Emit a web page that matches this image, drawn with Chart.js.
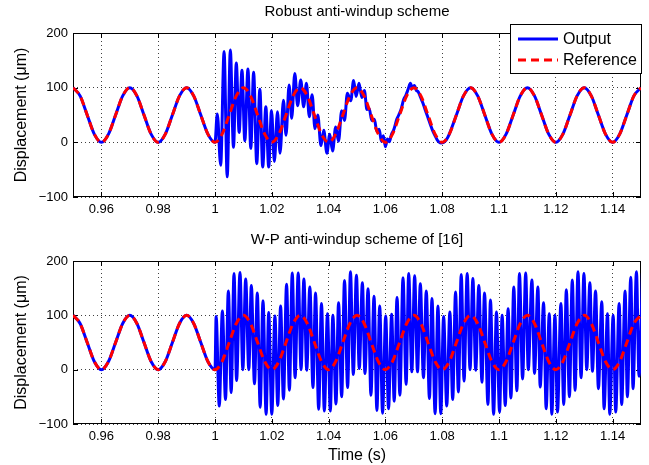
<!DOCTYPE html>
<html>
<head>
<meta charset="utf-8">
<script src="https://cdn.jsdelivr.net/npm/chart.js@4"></script>
<style>
  body { margin: 0; background: #fff; }
  #wrap { position: relative; width: 649px; height: 465px; }
  canvas { position: absolute; left: 0; }
</style>
</head>
<body>
<div id="wrap">
  <canvas id="topChart" width="649" height="232" style="top:0"></canvas>
  <canvas id="bottomChart" width="649" height="237" style="top:228px"></canvas>
</div>
<script>
// axis ticks
const timeTicks = [0.96, 0.98, 1, 1.02, 1.04, 1.06, 1.08, 1.1, 1.12, 1.14];
const displacementTicks = [-100, 0, 100, 200];

// reference signal, one value every 2.5 ms starting at 0.95 s
const sampleStart = 0.95;
const sampleStep = 0.0025;
const referenceValues = [
  100, 85, 50, 15, 0, 15, 50, 85,
  100, 85, 50, 15, 0, 15, 50, 85,
  100, 85, 50, 15, 0, 15, 50, 85,
  100, 85, 50, 15, 0, 15, 50, 85,
  100, 85, 50, 15, 0, 15, 50, 85,
  100, 85, 50, 15, 0, 15, 50, 85,
  100, 85, 50, 15, 0, 15, 50, 85,
  100, 85, 50, 15, 0, 15, 50, 85,
  100, 85, 50, 15, 0, 15, 50, 85,
  100, 85, 50, 15, 0, 15, 50, 85,
  100
];

// output before t = 1 s (same for both schemes, same sampling)
const outputBefore = [100, 85, 50, 15, 0, 15, 50, 85, 100, 85, 50, 15, 0, 15, 50, 85, 100, 85, 50, 15, 0];

const robustTransient = [
  [1.0008, 52], [1.0020, -42], [1.0032, 166], [1.0043, -63], [1.0054, 169], [1.0065, -9],
  [1.0075, 145], [1.0085, 18], [1.0095, 132], [1.0105, 3], [1.0116, 134], [1.0126, -11],
  [1.0136, 128], [1.0147, -39], [1.0158, 97], [1.0168, -45], [1.0179, 65], [1.0189, -45],
  [1.0199, 58], [1.0209, -35], [1.0220, 56], [1.0229, -20], [1.0241, 77], [1.0250, 13],
  [1.0261, 105], [1.0270, 44], [1.0281, 126], [1.0291, 67], [1.0302, 114], [1.0312, 65],
  [1.0322, 108], [1.0332, 47], [1.0342, 87], [1.0352, 25], [1.0362, 50], [1.0373, -6],
  [1.0383, 22], [1.0394, -20], [1.0404, 15], [1.0414, -16], [1.0425, 28], [1.0435, 2],
  [1.0446, 58], [1.0456, 40], [1.0466, 90], [1.0478, 76], [1.0488, 113], [1.0497, 84],
  [1.0507, 108], [1.0517, 82], [1.0526, 95], [1.0535, 60], [1.0543, 62], [1.0552, 40],
  [1.0561, 42], [1.0570, 20], [1.0578, 24], [1.0586, 2], [1.0593, 12], [1.0600, -8],
  [1.0607, 6], [1.0614, 1], [1.0621, 14], [1.0630, 24], [1.0640, 42], [1.0647, 50],
  [1.0655, 60], [1.0664, 78], [1.0672, 86], [1.0680, 97], [1.0688, 108], [1.0695, 99],
  [1.0702, 104], [1.0709, 95], [1.0716, 92], [1.0724, 82], [1.0732, 72], [1.0741, 58],
  [1.0750, 45], [1.0758, 33], [1.0766, 22], [1.0775, 12], [1.0784, 3], [1.0795, -1],
  [1.0805, 0], [1.0815, 5]
];
// robust scheme back on the reference from 1.0825 s (2.5 ms step)
const robustSettledStart = 1.0825;
const robustSettled = [
  15, 50, 85, 100, 85, 50, 15, 0,
  15, 50, 85, 100, 85, 50, 15, 0,
  15, 50, 85, 100, 85, 50, 15, 0,
  15, 50, 85, 100
];

// W-P scheme: [time, displacement] peaks and troughs of the bottom plot after t = 1 s
const wpOscillation = [
  [1.0004, 98], [1.0015, -67], [1.0026, 108], [1.0037, -55], [1.0047, 145], [1.0057, -42],
  [1.0067, 177], [1.0076, -20], [1.0088, 179], [1.0098, 0], [1.0108, 167], [1.0119, 0],
  [1.0128, 155], [1.0139, -26], [1.0149, 141], [1.0159, -69], [1.0169, 127], [1.0180, -82],
  [1.0189, 105], [1.0200, -82], [1.0211, 99], [1.0221, -66], [1.0231, 117], [1.0241, -54],
  [1.0252, 157], [1.0262, -38], [1.0272, 178], [1.0282, -15], [1.0293, 178], [1.0303, 0],
  [1.0313, 167], [1.0323, -1], [1.0334, 152], [1.0345, -33], [1.0354, 141], [1.0365, -73],
  [1.0375, 122], [1.0385, -76], [1.0396, 103], [1.0406, -76], [1.0415, 100], [1.0426, -63],
  [1.0435, 123], [1.0446, -50], [1.0456, 164], [1.0467, -33], [1.0477, 180], [1.0487, -9],
  [1.0498, 174], [1.0508, 2], [1.0519, 160], [1.0528, -7], [1.0539, 149], [1.0549, -47],
  [1.0560, 135], [1.0570, -75], [1.0580, 117], [1.0590, -80], [1.0601, 99], [1.0611, -72],
  [1.0622, 102], [1.0631, -58], [1.0641, 133], [1.0651, -47], [1.0662, 169], [1.0673, -27],
  [1.0682, 177], [1.0693, -4], [1.0703, 173], [1.0713, -4], [1.0723, 158], [1.0734, -15],
  [1.0744, 145], [1.0755, -53], [1.0764, 131], [1.0775, -81], [1.0785, 117], [1.0795, -81],
  [1.0805, 98], [1.0816, -67], [1.0827, 106], [1.0837, -55], [1.0847, 143], [1.0857, -41],
  [1.0867, 175], [1.0877, -21], [1.0888, 177], [1.0898, 0], [1.0908, 168], [1.0918, -1],
  [1.0929, 155], [1.0940, -23], [1.0949, 141], [1.0961, -64], [1.0970, 128], [1.0981, -82],
  [1.0991, 106], [1.1002, -78], [1.1011, 100], [1.1022, -66], [1.1032, 112], [1.1042, -52],
  [1.1052, 152], [1.1063, -39], [1.1072, 177], [1.1083, -17], [1.1094, 178], [1.1103, 0],
  [1.1116, 165], [1.1125, -7], [1.1137, 152], [1.1145, -32], [1.1157, 123], [1.1166, -72],
  [1.1177, 103], [1.1186, -82], [1.1197, 100], [1.1206, -78], [1.1218, 122], [1.1228, -64],
  [1.1237, 147], [1.1248, -50], [1.1258, 165], [1.1268, -38], [1.1278, 180], [1.1289, -15],
  [1.1299, 177], [1.1309, 0], [1.1320, 160], [1.1329, -3], [1.1340, 145], [1.1350, -35],
  [1.1362, 125], [1.1370, -72], [1.1382, 103], [1.1390, -82], [1.1402, 100], [1.1411, -78],
  [1.1423, 122], [1.1432, -64], [1.1444, 145], [1.1452, -50], [1.1464, 170], [1.1472, -35],
  [1.1484, 180], [1.1493, -12], [1.1505, 178]
];

const FONT = "'Liberation Sans', Arial, Helvetica, sans-serif";
Chart.defaults.color = '#000';
Chart.defaults.font.family = FONT;

function sampled(start, values) {
  return values.map((y, i) => ({ x: +(start + i * sampleStep).toFixed(4), y: y }));
}
function pairs(list) {
  return list.map(p => ({ x: p[0], y: p[1] }));
}

// MATLAB style box and inward tick marks
const matlabAxes = {
  id: 'matlabAxes',
  beforeDatasetsDraw(chart) {
    const ctx = chart.ctx;
    const a = chart.chartArea;
    const x = chart.scales.x, y = chart.scales.y;
    ctx.save();
    ctx.strokeStyle = '#000';
    ctx.lineWidth = 1;
    ctx.beginPath();
    timeTicks.forEach(v => {
      const px = Math.round(x.getPixelForValue(v)) + 0.5;
      ctx.moveTo(px, a.bottom); ctx.lineTo(px, a.bottom - 5);
      ctx.moveTo(px, a.top); ctx.lineTo(px, a.top + 5);
    });
    displacementTicks.forEach(v => {
      const py = Math.round(y.getPixelForValue(v)) + 0.5;
      ctx.moveTo(a.left, py); ctx.lineTo(a.left + 5, py);
      ctx.moveTo(a.right, py); ctx.lineTo(a.right - 5, py);
    });
    ctx.stroke();
    ctx.strokeRect(a.left + 0.5, a.top + 0.5, a.right - a.left - 1, a.bottom - a.top - 1);
    ctx.restore();
  }
};

const legendBox = {
  id: 'legendBox',
  afterDraw(chart) {
    const ctx = chart.ctx;
    ctx.save();
    ctx.fillStyle = '#fff';
    ctx.fillRect(510.5, 24.5, 131, 49);
    ctx.strokeStyle = '#000';
    ctx.lineWidth = 1;
    ctx.strokeRect(510.5, 24.5, 131, 49);
    const entries = [chart.data.datasets[0], chart.data.datasets[1]];
    entries.forEach((ds, i) => {
      const ly = 39 + i * 21;
      ctx.beginPath();
      ctx.strokeStyle = ds.borderColor;
      ctx.lineWidth = ds.borderWidth;
      ctx.setLineDash(ds.borderDash || []);
      ctx.moveTo(518, ly);
      ctx.lineTo(558, ly);
      ctx.stroke();
      ctx.setLineDash([]);
      ctx.fillStyle = '#000';
      ctx.font = '16px ' + FONT;
      ctx.textBaseline = 'middle';
      ctx.fillText(ds.label, 563, ly + 1);
    });
    ctx.restore();
  }
};

function makeChart(id, title, outputPoints, withLegend, xTitle, xHeight) {
  return new Chart(document.getElementById(id), {
    type: 'line',
    data: {
      datasets: [{
        label: 'Output',
        data: outputPoints,
        borderColor: '#0000ff',
        borderWidth: 3,
        pointRadius: 0,
        cubicInterpolationMode: 'monotone',
        order: 1
      }, {
        label: 'Reference',
        data: sampled(sampleStart, referenceValues),
        borderColor: '#ff0000',
        borderWidth: 3,
        borderDash: [8, 5],
        pointRadius: 0,
        cubicInterpolationMode: 'monotone',
        order: 0
      }]
    },
    options: {
      responsive: false,
      animation: false,
      layout: { padding: { left: 0, right: 8, top: 0, bottom: 0 } },
      plugins: {
        legend: { display: false },
        tooltip: { enabled: false },
        title: {
          display: true,
          text: title,
          color: '#000',
          fullSize: false,
          font: { size: 15, weight: 'normal', family: FONT },
          padding: { top: 3, bottom: 12 }
        }
      },
      scales: {
        x: {
          type: 'linear',
          min: 0.95,
          max: 1.15,
          afterBuildTicks: s => { s.ticks = timeTicks.map(v => ({ value: v })); },
          afterFit: s => { s.height = xHeight; },
          ticks: {
            padding: 5,
            maxRotation: 0,
            font: { size: 13 },
            callback: v => String(+v.toFixed(2))
          },
          grid: { color: 'rgba(0,0,0,0.75)', lineWidth: 1, drawTicks: false },
          border: { display: false, dash: [1, 3] },
          title: {
            display: !!xTitle,
            text: xTitle || '',
            font: { size: 16 },
            padding: { top: 0, bottom: 0 }
          }
        },
        y: {
          min: -100,
          max: 200,
          afterBuildTicks: s => { s.ticks = displacementTicks.map(v => ({ value: v })); },
          afterFit: s => { s.width = 73; },
          ticks: {
            padding: 5,
            font: { size: 13 },
            callback: v => String(v).replace('-', '\u2212')
          },
          grid: { color: 'rgba(0,0,0,0.75)', lineWidth: 1, drawTicks: false },
          border: { display: false, dash: [1, 3] },
          title: {
            display: true,
            text: 'Displacement (\u03bcm)',
            font: { size: 16 },
            padding: { top: 12, bottom: 0 }
          }
        }
      }
    },
    plugins: withLegend ? [matlabAxes, legendBox] : [matlabAxes]
  });
}

const robustOutput = sampled(sampleStart, outputBefore)
  .concat(pairs(robustTransient))
  .concat(sampled(robustSettledStart, robustSettled));
const wpOutput = sampled(sampleStart, outputBefore).concat(pairs(wpOscillation));

makeChart('topChart', 'Robust anti-windup scheme', robustOutput, true, null, 35);
makeChart('bottomChart', 'W-P anti-windup scheme of [16]', wpOutput, false, 'Time (s)', 41);
</script>
</body>
</html>
